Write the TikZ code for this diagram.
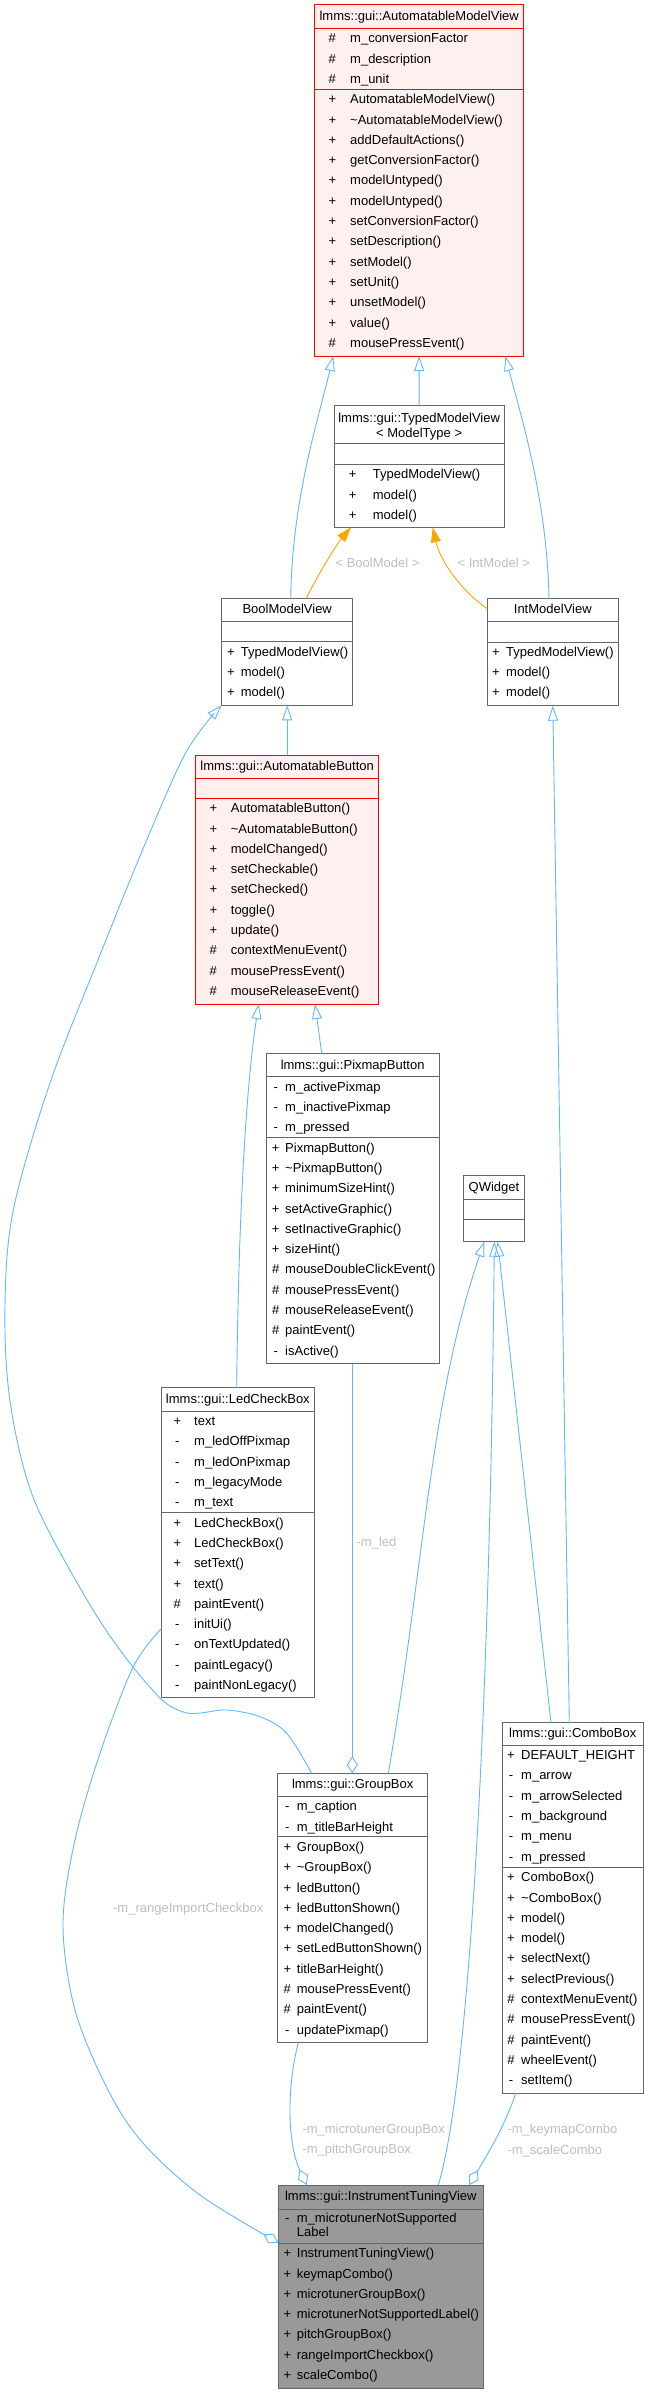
\documentclass[tikz,border=0pt]{standalone}
\usepackage{fontspec}
\setmainfont{Liberation Sans}
\usetikzlibrary{arrows.meta,calc}
\definecolor{edgeblue}{HTML}{63B8FF}
\definecolor{tmplorange}{HTML}{FFA500}
\definecolor{lblgrey}{HTML}{BEBEBE}
\definecolor{boxgrey}{HTML}{666666}
\definecolor{pinkfill}{HTML}{FFF0F0}
\definecolor{darkfill}{HTML}{999999}
\tikzset{
  classbox/.style={rectangle, inner sep=0, outer sep=0, line width=1pt},
  greybox/.style={draw=boxgrey, fill=white},
  redbox/.style={draw=red, fill=pinkfill},
  darkbox/.style={draw=boxgrey, fill=darkfill},
  rowtxt/.style={font=\fontsize{13}{15}\selectfont, inner sep=0, text height=9.5pt, text depth=2.7pt},
  lbl/.style={rowtxt, text=lblgrey},
  inh/.style={draw=edgeblue, line width=0.9pt, -{Triangle[open, length=15pt, width=10pt]}},
  tmpl/.style={draw=tmplorange, line width=0.9pt, -{Triangle[length=15pt, width=10pt]}},
  aggr/.style={draw=edgeblue, line width=0.9pt, -{Diamond[open, length=17pt, width=11pt]}}
}
\newcommand\cls[6]{\node[classbox,#6, minimum width=#4-#2, minimum height=#5-#3, anchor=north west] (#1) at (#2,#3) {};}
\newcommand\sepline[4]{\draw[line width=1pt, #4] (#1,#3) -- (#2,#3);}
\newcommand\rows[5]{\foreach \s/\n [count=\i from 0] in {#5}{\node[rowtxt] at (#1,#3+\i*#4) {\s}; \node[rowtxt,anchor=west] at (#2,#3+\i*#4) {\n};}}
\begin{document}
\begin{tikzpicture}[x=1pt,y=-1pt]
\useasboundingbox[fill=white] (0,0) rectangle (648,2394);

% AutomatableModelView
\cls{amv}{314.7}{4.7}{523.7}{356}{redbox}
\sepline{314.7}{523.7}{28.3}{red}
\sepline{314.7}{523.7}{89.3}{red}
\node[rowtxt] (amvt) at (419.2,17.2) {lmms::gui::AutomatableModelView};
\rows{332.3}{350}{39.3}{20.3}{\#/m\_conversionFactor, \#/m\_description, \#/m\_unit}
\rows{332.3}{350}{100.3}{20.3}{+/AutomatableModelView(), +/\textasciitilde AutomatableModelView(), +/addDefaultActions(), +/getConversionFactor(), +/modelUntyped(), +/modelUntyped(), +/setConversionFactor(), +/setDescription(), +/setModel(), +/setUnit(), +/unsetModel(), +/value(), \#/mousePressEvent()}

% TypedModelView
\cls{tmv}{334}{405.7}{504.3}{527.3}{greybox}
\sepline{334}{504.3}{443.3}{boxgrey}
\sepline{334}{504.3}{464}{boxgrey}
\node[rowtxt] (tmvt1) at (419.15,419.3) {lmms::gui::TypedModelView};
\node[rowtxt] (tmvt2) at (419.15,434.3) {< ModelType >};
\rows{352.7}{372.7}{475.3}{20.3}{+/TypedModelView(), +/model(), +/model()}

% BoolModelView
\cls{bmv}{221.7}{598.7}{352.7}{705.3}{greybox}
\sepline{221.7}{352.7}{621.7}{boxgrey}
\sepline{221.7}{352.7}{641.7}{boxgrey}
\node[rowtxt] (bmvt) at (287.2,610.5) {BoolModelView};
\rows{231}{240.7}{652.7}{20.3}{+/TypedModelView(), +/model(), +/model()}

% IntModelView
\cls{imv}{487.3}{598.7}{618.3}{705.7}{greybox}
\sepline{487.3}{618.3}{621.7}{boxgrey}
\sepline{487.3}{618.3}{642}{boxgrey}
\node[rowtxt] (imvt) at (552.8,610.5) {IntModelView};
\rows{496}{506}{652.7}{20.3}{+/TypedModelView(), +/model(), +/model()}

% AutomatableButton
\cls{ab}{195.7}{755}{378.7}{1004}{redbox}
\sepline{195.7}{378.7}{778.3}{red}
\sepline{195.7}{378.7}{798.3}{red}
\node[rowtxt] (abt) at (287.2,767) {lmms::gui::AutomatableButton};
\rows{213.3}{230.7}{809.3}{20.3}{+/AutomatableButton(), +/\textasciitilde AutomatableButton(), +/modelChanged(), +/setCheckable(), +/setChecked(), +/toggle(), +/update(), \#/contextMenuEvent(), \#/mousePressEvent(), \#/mouseReleaseEvent()}

% PixmapButton
\cls{pb}{266}{1053.3}{439.3}{1363.7}{greybox}
\sepline{266}{439.3}{1076.7}{boxgrey}
\sepline{266}{439.3}{1137}{boxgrey}
\node[rowtxt] (pbt) at (352.65,1066) {lmms::gui::PixmapButton};
\rows{275.7}{285}{1087.7}{20.3}{-/m\_activePixmap, -/m\_inactivePixmap, -/m\_pressed}
\rows{275.7}{285}{1148.7}{20.3}{+/PixmapButton(), +/\textasciitilde PixmapButton(), +/minimumSizeHint(), +/setActiveGraphic(), +/setInactiveGraphic(), +/sizeHint(), \#/mouseDoubleClickEvent(), \#/mousePressEvent(), \#/mouseReleaseEvent(), \#/paintEvent(), -/isActive()}

% QWidget
\cls{qw}{463.7}{1175.3}{524.3}{1241.7}{greybox}
\sepline{463.7}{524.3}{1199}{boxgrey}
\sepline{463.7}{524.3}{1219}{boxgrey}
\node[rowtxt] (qwt) at (494,1188) {QWidget};

% LedCheckBox
\cls{lcb}{161.7}{1387.7}{314}{1697.7}{greybox}
\sepline{161.7}{314}{1411}{boxgrey}
\sepline{161.7}{314}{1512.7}{boxgrey}
\node[rowtxt] (lcbt) at (237.85,1400) {lmms::gui::LedCheckBox};
\rows{177.3}{194}{1422}{20.3}{+/text, -/m\_ledOffPixmap, -/m\_ledOnPixmap, -/m\_legacyMode, -/m\_text}
\rows{177.3}{194}{1523.7}{20.3}{+/LedCheckBox(), +/LedCheckBox(), +/setText(), +/text(), \#/paintEvent(), -/initUi(), -/onTextUpdated(), -/paintLegacy(), -/paintNonLegacy()}

% GroupBox
\cls{gb}{277.7}{1773.3}{427.7}{2042.7}{greybox}
\sepline{277.7}{427.7}{1796}{boxgrey}
\sepline{277.7}{427.7}{1836.7}{boxgrey}
\node[rowtxt] (gbt) at (352.7,1785.5) {lmms::gui::GroupBox};
\rows{287.3}{296.7}{1807.3}{20.3}{-/m\_caption, -/m\_titleBarHeight}
\rows{287.3}{296.7}{1848}{20.3}{+/GroupBox(), +/\textasciitilde GroupBox(), +/ledButton(), +/ledButtonShown(), +/modelChanged(), +/setLedButtonShown(), +/titleBarHeight(), \#/mousePressEvent(), \#/paintEvent(), -/updatePixmap()}

% ComboBox
\cls{cb}{502.3}{1722.5}{643.3}{2093.3}{greybox}
\sepline{502.3}{643.3}{1745.5}{boxgrey}
\sepline{502.3}{643.3}{1867.2}{boxgrey}
\node[rowtxt] (cbt) at (572.8,1734.5) {lmms::gui::ComboBox};
\rows{511}{521}{1756.2}{20.3}{+/DEFAULT\_HEIGHT, -/m\_arrow, -/m\_arrowSelected, -/m\_background, -/m\_menu, -/m\_pressed}
\rows{511}{521}{1878.3}{20.3}{+/ComboBox(), +/\textasciitilde ComboBox(), +/model(), +/model(), +/selectNext(), +/selectPrevious(), \#/contextMenuEvent(), \#/mousePressEvent(), \#/paintEvent(), \#/wheelEvent(), -/setItem()}

% InstrumentTuningView
\cls{itv}{278.3}{2185}{483.3}{2388}{darkbox}
\sepline{278.3}{483.3}{2209}{boxgrey}
\sepline{278.3}{483.3}{2243.3}{boxgrey}
\node[rowtxt] (itvt) at (380.8,2197.5) {lmms::gui::InstrumentTuningView};
\node[rowtxt] (itvs) at (287.3,2219) {-};
\node[rowtxt,anchor=west] (itva1) at (296.7,2219) {m\_microtunerNotSupported};
\node[rowtxt,anchor=west] (itva2) at (296.7,2233.3) {Label};
\rows{287.3}{296.7}{2254.3}{20.3}{+/InstrumentTuningView(), +/keymapCombo(), +/microtunerGroupBox(), +/microtunerNotSupportedLabel(), +/pitchGroupBox(), +/rangeImportCheckbox(), +/scaleCombo()}

% ---------- connectors ----------
\draw[inh] (tmv.north) -- (amv.south);
\draw[inh] ($(bmv.north west)+(69,0)$) .. controls (292,500) and (318,420) .. ($(amv.south west)+(18.6,0)$);
\draw[inh] ($(imv.north west)+(61.7,0)$) .. controls (547,500) and (522,420) .. ($(amv.south west)+(190.6,0)$);
\draw[tmpl] ($(bmv.north west)+(84.3,0)$) .. controls (318,575) and (336,545) .. ($(tmv.south west)+(17,0)$);
\draw[tmpl] ($(imv.north west)+(0,10)$) .. controls (460,590) and (440,560) .. ($(tmv.south west)+(98.7,0)$);
\node[lbl] (lblbool) at (377.5,563.7) {< BoolModel >};
\node[lbl] (lblint) at (493.8,563.7) {< IntModel >};
\draw[inh] (ab.north) -- (bmv.south);
\coordinate (gbA) at ($(gb.north west)+(34,0)$);
\draw[inh] plot[smooth, tension=0.55] coordinates {(gbA) (286.7,1733.3) (260,1716.7) (226.7,1710) (200,1713) (183.3,1712) (160,1698) (120,1650) (83,1593) (33,1497) (10,1401) (5,1306) (13.3,1210) (50,1083) (100,955) (146.7,840) (186.7,751) (bmv.south west)};
\draw[inh] ($(lcb.north west)+(75,0)$) .. controls (238,1250) and (244,1100) .. ($(ab.south west)+(63,0)$);
\draw[inh] ($(pb.north west)+(55.7,0)$) -- ($(ab.south west)+(119.3,0)$);
\draw[aggr] ($(pb.south west)+(86.3,0)$) -- ($(gb.north west)+(74.6,0)$);
\node[lbl] (lblled) at (376.5,1543.3) {-m\_led};
\draw[inh] ($(gb.north west)+(110.6,0)$) .. controls (425,1560) and (430,1400) .. ($(qw.south west)+(20.6,0)$);
\draw[inh] ($(itv.north west)+(160,0)$) .. controls (470,2080) and (490,1700) .. ($(qw.south west)+(30.6,0)$);
\draw[inh] ($(cb.north west)+(48.7,0)$) -- ($(qw.south west)+(34,0)$);
\draw[inh] ($(cb.north west)+(67,0)$) -- (imv.south);
\draw[aggr] ($(cb.south west)+(13.4,0)$) .. controls (505,2125) and (490,2150) .. ($(itv.north west)+(191,0)$);
\node[lbl,anchor=west] (lblkey) at (507.3,2130) {-m\_keymapCombo};
\node[lbl,anchor=west] (lblscale) at (507.3,2150.7) {-m\_scaleCombo};
\draw[aggr] ($(gb.south west)+(20.6,0)$) .. controls (286,2090) and (288,2145) .. ($(itv.north west)+(28.4,0)$);
\node[lbl,anchor=west] (lblmicro) at (302.3,2130) {-m\_microtunerGroupBox};
\node[lbl,anchor=west] (lblpitch) at (302.3,2150) {-m\_pitchGroupBox};
\coordinate (lcbL) at ($(lcb.north west)+(0,240.6)$);
\coordinate (itvL) at ($(itv.north west)+(0,57.7)$);
\draw[aggr] plot[smooth, tension=0.55] coordinates {(lcbL) (133.3,1666.7) (100,1753.3) (75,1840) (63,1924) (75,2010) (108,2090) (143,2143) (200,2195) (itvL)};
\node[lbl] (lblrange) at (188.3,1909) {-m\_rangeImportCheckbox};
\end{tikzpicture}
\end{document}
